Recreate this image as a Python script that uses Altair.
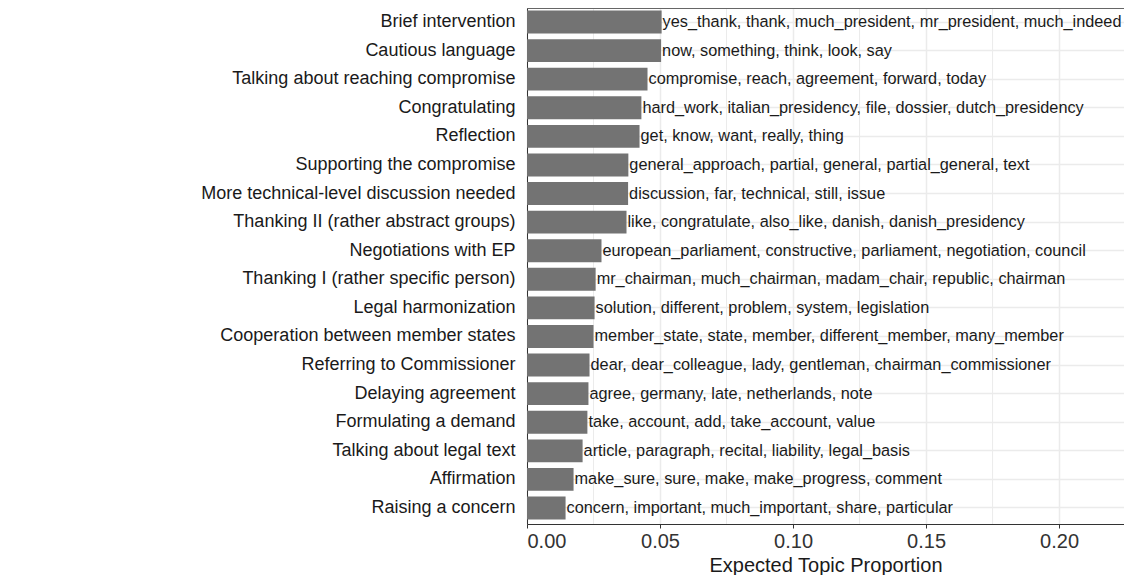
import altair as alt
import pandas as pd

topics = [
    "Brief intervention",
    "Cautious language",
    "Talking about reaching compromise",
    "Congratulating",
    "Reflection",
    "Supporting the compromise",
    "More technical-level discussion needed",
    "Thanking II (rather abstract groups)",
    "Negotiations with EP",
    "Thanking I (rather specific person)",
    "Legal harmonization",
    "Cooperation between member states",
    "Referring to Commissioner",
    "Delaying agreement",
    "Formulating a demand",
    "Talking about legal text",
    "Affirmation",
    "Raising a concern",
]

proportions = [
    0.0506, 0.0504, 0.0453, 0.0430, 0.0423, 0.0381, 0.0380, 0.0374, 0.0280,
    0.0258, 0.0254, 0.0250, 0.0235, 0.0231, 0.0227, 0.0209, 0.0175, 0.0145,
]

words = [
    "yes_thank, thank, much_president, mr_president, much_indeed",
    "now, something, think, look, say",
    "compromise, reach, agreement, forward, today",
    "hard_work, italian_presidency, file, dossier, dutch_presidency",
    "get, know, want, really, thing",
    "general_approach, partial, general, partial_general, text",
    "discussion, far, technical, still, issue",
    "like, congratulate, also_like, danish, danish_presidency",
    "european_parliament, constructive, parliament, negotiation, council",
    "mr_chairman, much_chairman, madam_chair, republic, chairman",
    "solution, different, problem, system, legislation",
    "member_state, state, member, different_member, many_member",
    "dear, dear_colleague, lady, gentleman, chairman_commissioner",
    "agree, germany, late, netherlands, note",
    "take, account, add, take_account, value",
    "article, paragraph, recital, liability, legal_basis",
    "make_sure, sure, make, make_progress, comment",
    "concern, important, much_important, share, particular",
]

major_ticks = [0.0, 0.05, 0.10, 0.15, 0.20]
minor_ticks = [0.025, 0.075, 0.125, 0.175]

df = pd.DataFrame({"topic": topics, "prop": proportions, "words": words})
minor_df = pd.DataFrame({"v": minor_ticks})

FONT = "Liberation Sans"
GRID = "#ebebeb"
PLOT_W = 597
PLOT_H = 516

xscale = alt.Scale(domain=[0, 0.2244], nice=False, zero=True)
xaxis = alt.Axis(
    values=major_ticks,
    format=".2f",
    grid=True,
    gridColor=GRID,
    gridWidth=1.5,
    domainColor="#333333",
    tickColor="#333333",
    tickSize=4,
    labelFontSize=20,
    labelColor="#333333",
    labelPadding=3,
    title="Expected Topic Proportion",
    titleFontSize=20,
    titleFontWeight="normal",
    titleColor="#1a1a1a",
    titleBaseline="alphabetic",
    titleY=47,
)
yscale = alt.Scale(paddingInner=0.2, paddingOuter=0.125, align=0.36)
yaxis = alt.Axis(
    title=None,
    ticks=False,
    tickSize=0,
    grid=True,
    gridColor=GRID,
    gridWidth=1.5,
    bandPosition=0.5,
    domainColor="#333333",
    labelFontSize=18,
    labelColor="#1a1a1a",
    labelPadding=12,
    labelLimit=600,
)

minor = alt.Chart(minor_df).mark_rule(color=GRID, strokeWidth=1).encode(
    x=alt.X("v:Q", scale=xscale, axis=xaxis)
)

top_border = alt.Chart(minor_df).mark_rule(color="#666666", strokeWidth=1).encode(
    x=alt.value(0), x2=alt.value(PLOT_W), y=alt.value(0.5)
)

base = alt.Chart(df)
bars = base.mark_bar(color="#737373").encode(
    y=alt.Y("topic:N", sort=topics, scale=yscale, axis=yaxis),
    x=alt.X("prop:Q", scale=xscale, axis=xaxis),
)
labels = base.mark_text(
    align="left", baseline="middle", dx=1, fontSize=16.3, font=FONT, color="#1a1a1a"
).encode(
    y=alt.Y("topic:N", sort=topics, scale=yscale, axis=yaxis),
    x=alt.X("prop:Q", scale=xscale, axis=xaxis),
    text="words:N",
)

chart = (
    alt.layer(minor, bars, labels, top_border)
    .properties(
        width=PLOT_W,
        height=PLOT_H,
        autosize=alt.AutoSizeParams(type="none"),
        padding={"left": 519, "top": 0, "right": 0, "bottom": 51},
    )
    .configure(font=FONT)
    .configure_view(strokeWidth=0)
)

chart.save("out.html", embed_options={"renderer": "svg", "actions": False})
